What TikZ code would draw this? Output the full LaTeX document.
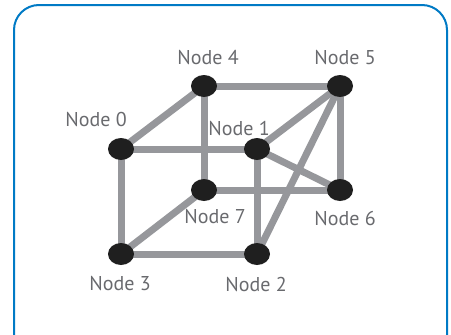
\documentclass[tikz,border=0pt]{standalone}
\usepackage{fontspec}
\setmainfont{PT Sans}
\usetikzlibrary{shapes.geometric}
\definecolor{frameblue}{RGB}{0,122,197}
\definecolor{edgegray}{RGB}{150,151,155}
\definecolor{textgray}{RGB}{105,106,110}
\begin{document}
\begin{tikzpicture}[x=1pt,y=-1pt,
  vert/.style={ellipse,fill=black!88,minimum width=26pt,minimum height=22pt,inner sep=0pt},
  lbl/.style={text=textgray,font=\fontsize{20}{22}\selectfont,inner sep=0pt},
  edge/.style={draw=edgegray,line width=7pt}]
\useasboundingbox (0,0) rectangle (451,335);
\draw[frameblue,line width=2pt,rounded corners=25pt] (14,5) rectangle (447,360);
\coordinate (c0) at (121,149);
\coordinate (c4) at (204,86);
\coordinate (c5) at (340,86);
\coordinate (c1) at (257,149);
\coordinate (c7) at (204,190);
\coordinate (c6) at (340,190);
\coordinate (c3) at (121,254);
\coordinate (c2) at (257,254);
\foreach \a/\b in {c0/c4,c4/c5,c0/c1,c4/c7,c0/c3,c1/c5,c1/c6,c5/c6,c5/c2,c1/c2,c7/c6,c7/c3,c3/c2}
  \draw[edge] (\a) -- (\b);
\node[vert] (n0) at (c0) {};
\node[vert] (n4) at (c4) {};
\node[vert] (n5) at (c5) {};
\node[vert] (n1) at (c1) {};
\node[vert] (n7) at (c7) {};
\node[vert] (n6) at (c6) {};
\node[vert] (n3) at (c3) {};
\node[vert] (n2) at (c2) {};
\node[lbl] (l4) at (208,58) {Node 4};
\node[lbl] (l5) at (345,58) {Node 5};
\node[lbl] (l0) at (96,119) {Node 0};
\node[lbl] (l1) at (239,128) {Node 1};
\node[lbl] (l7) at (215,217) {Node 7};
\node[lbl] (l6) at (345,218) {Node 6};
\node[lbl] (l3) at (120,284) {Node 3};
\node[lbl] (l2) at (256,284) {Node 2};
\end{tikzpicture}
\end{document}
